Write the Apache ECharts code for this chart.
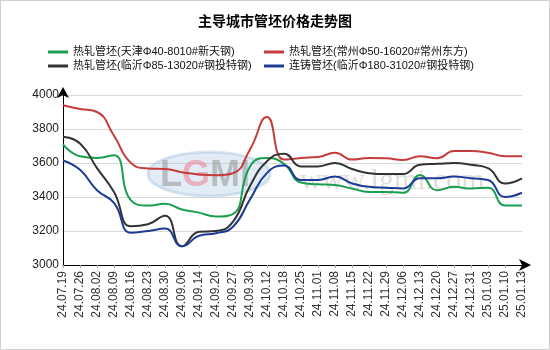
<!DOCTYPE html>
<html>
<head>
<meta charset="utf-8">
<script src="https://cdn.jsdelivr.net/npm/echarts@6/dist/echarts.min.js"></script>
<style>
html,body{margin:0;padding:0;background:#fff;}
#chart{width:550px;height:350px;}
</style>
</head>
<body>
<div id="chart"></div>
<script>
var titleText = '主导城市管坯价格走势图';
var categories = ['24.07.19','24.07.26','24.08.02','24.08.09','24.08.16','24.08.23','24.08.30','24.09.06','24.09.14','24.09.20','24.09.27','24.09.30','24.10.12','24.10.18','24.10.25','24.11.01','24.11.08','24.11.15','24.11.22','24.11.29','24.12.06','24.12.13','24.12.20','24.12.27','24.12.31','25.01.03','25.01.10','25.01.13'];
var seriesNames = ['热轧管坯(天津Φ40-8010#新天钢)','热轧管坯(常州Φ50-16020#常州东方)','热轧管坯(临沂Φ85-13020#钢投特钢)','连铸管坯(临沂Φ180-31020#钢投特钢)'];
var tianjin = [3710,3640,3630,3645,3380,3350,3360,3327,3308,3285,3300,3580,3630,3595,3485,3475,3470,3450,3430,3430,3425,3530,3440,3460,3450,3455,3350,3350];
var changzhou = [3940,3918,3900,3760,3600,3568,3565,3546,3532,3528,3540,3680,3870,3620,3630,3635,3660,3620,3630,3628,3618,3640,3628,3670,3670,3660,3640,3640];
var linyiHot = [3755,3715,3570,3430,3228,3240,3290,3110,3195,3200,3255,3465,3610,3655,3580,3580,3600,3565,3540,3535,3535,3590,3595,3600,3590,3570,3480,3510];
var linyiCast = [3615,3560,3440,3365,3190,3200,3214,3110,3172,3187,3225,3386,3542,3585,3500,3500,3520,3480,3460,3455,3450,3510,3510,3520,3510,3500,3400,3425];
var colors = ['#1a9e50','#c43c3c','#333333','#1e3c96'];
var yMin = 3000, yMax = 4000, yInterval = 200;

var chart = echarts.init(document.getElementById('chart'));
var legendText = {fontSize: 11, color: '#111', lineHeight: 14, fontFamily: 'Liberation Sans, Noto Sans CJK SC'};
function mk(name, data, color) {
  return {name: name, type: 'line', data: data, smooth: 0.5, symbol: 'none',
    lineStyle: {color: color, width: 2}, itemStyle: {color: color}, z: 5};
}
chart.setOption({
  animation: false,
  backgroundColor: '#fff',
  title: {text: titleText, left: 'center', top: 9,
    textStyle: {fontSize: 14, fontWeight: 'bold', color: '#000', fontFamily: 'Noto Sans CJK SC'}},
  legend: [
    {data: [seriesNames[0], seriesNames[2]], orient: 'vertical', left: 43, top: 40, itemGap: 0,
      itemWidth: 20, itemHeight: 3, icon: 'rect', textStyle: legendText},
    {data: [seriesNames[1], seriesNames[3]], orient: 'vertical', left: 259, top: 40, itemGap: 0,
      itemWidth: 20, itemHeight: 3, icon: 'rect', textStyle: legendText}
  ],
  grid: {left: 63, right: 28, top: 95, bottom: 85},
  xAxis: {
    type: 'category', data: categories, boundaryGap: false,
    axisLine: {lineStyle: {color: '#000', width: 1}, symbol: ['none', 'arrow'], symbolSize: [9, 12], symbolOffset: [0, 9]},
    axisTick: {show: true, length: 3, lineStyle: {color: '#aaa'}},
    axisLabel: {interval: 0, rotate: 90, fontSize: 12, color: '#333', margin: 6, fontFamily: 'Liberation Sans'},
    splitLine: {show: false}
  },
  yAxis: {
    type: 'value', min: yMin, max: yMax, interval: yInterval,
    axisLine: {show: true, lineStyle: {color: '#000', width: 1}, symbol: ['none', 'arrow'], symbolSize: [9, 11], symbolOffset: [0, 8]},
    axisTick: {show: false},
    axisLabel: {fontSize: 12, color: '#222', margin: 4, fontFamily: 'Liberation Sans',
      formatter: function (v) { return String(v); }},
    splitLine: {lineStyle: {color: '#d9d9d9', width: 1}}
  },
  graphic: [
    {type: 'rect', shape: {x: 0.5, y: 0.5, width: 549, height: 349}, style: {fill: 'none', stroke: '#d0d0d0', lineWidth: 1}, silent: true, z: 0},
    {type: 'ellipse', shape: {cx: 209, cy: 174, rx: 61, ry: 22}, style: {fill: 'rgba(170,200,230,0.35)', stroke: 'rgba(150,180,215,0.35)', lineWidth: 3}, silent: true, z: 1},
    {type: 'text', x: 160, y: 158, style: {text: 'L', font: 'bold 36px Liberation Sans', fill: 'rgba(150,150,150,0.55)'}, silent: true, z: 1},
    {type: 'text', x: 182, y: 158, style: {text: 'G', font: 'bold 36px Liberation Sans', fill: 'rgba(235,130,140,0.55)'}, silent: true, z: 1},
    {type: 'text', x: 210, y: 158, style: {text: 'MI', font: 'bold 36px Liberation Sans', fill: 'rgba(150,150,150,0.55)'}, silent: true, z: 1},
    {type: 'text', x: 300, y: 166, style: {text: 'www.lgmi.com', font: '30px Liberation Serif', fill: 'rgba(160,160,160,0.35)'}, silent: true, z: 1}
  ],
  series: [
    mk(seriesNames[0], tianjin, colors[0]),
    mk(seriesNames[1], changzhou, colors[1]),
    mk(seriesNames[2], linyiHot, colors[2]),
    mk(seriesNames[3], linyiCast, colors[3])
  ]
});
</script>
</body>
</html>
